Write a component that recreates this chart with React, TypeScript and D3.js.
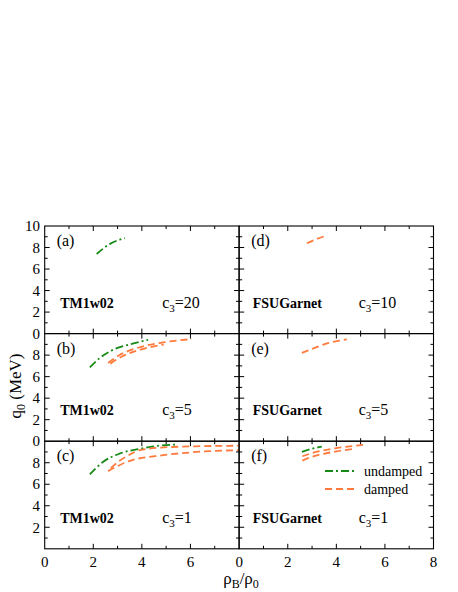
import React from "react";
import * as d3 from "d3";

type Pt = [number, number];

// x: rho_B/rho_0, y: q0 (MeV)
const panelA_undamped: Pt[] = [[2.14, 7.4], [2.69, 8.34], [3.3, 8.87]];
const panelD_damped: Pt[] = [[2.79, 8.4], [3.2, 8.8], [3.63, 9.14]];
const panelB_undamped: Pt[] = [[1.86, 6.86], [2.28, 7.75], [2.82, 8.5], [3.51, 9.0], [4.26, 9.42]];
const panelB_damped1: Pt[] = [[2.61, 7.26], [3.1, 8.03], [3.79, 8.65], [4.88, 9.18], [6.05, 9.49]];
const panelB_damped2: Pt[] = [[2.7, 7.2], [3.2, 7.9], [3.9, 8.48], [4.9, 8.98]];
const panelC_undamped: Pt[] = [[1.86, 6.92], [2.41, 8.09], [3.1, 8.86], [3.99, 9.32], [4.6, 9.55], [5.43, 9.69]];
const panelC_damped1: Pt[] = [[2.72, 7.5], [3.03, 8.09], [3.5, 8.75], [3.92, 9.17], [4.88, 9.42], [6.52, 9.54], [8.0, 9.58]];
const panelC_damped2: Pt[] = [[2.61, 7.22], [3.51, 8.18], [4.88, 8.7], [6.25, 9.0], [8.0, 9.17]];
const panelE_damped: Pt[] = [[2.58, 8.21], [3.06, 8.62], [3.61, 9.09], [4.02, 9.3], [4.43, 9.46]];
const panelF_undamped: Pt[] = [[2.58, 9.0], [3.0, 9.3], [3.4, 9.5]];
const panelF_damped1: Pt[] = [[2.6, 8.6], [3.0, 8.9], [4.0, 9.35], [5.1, 9.65]];
const panelF_damped2: Pt[] = [[2.6, 8.2], [3.0, 8.55], [4.0, 9.05], [4.8, 9.3]];

const panelLetters = ["(a)", "(b)", "(c)", "(d)", "(e)", "(f)"];
const modelNames = ["TM1w02", "FSUGarnet"];
const c3Values = [["20", "5", "1"], ["10", "5", "1"]];
const xTickLabelsLeft = [0, 2, 4, 6];
const xTickLabelsRight = [0, 2, 4, 6, 8];
const yTickLabelsByRow = [[0, 2, 4, 6, 8, 10], [0, 2, 4, 6, 8], [2, 4, 6, 8]];
const legendLabels = ["undamped", "damped"];

const GREEN = "#168a16";
const ORANGE = "#ff7a3c";
const GREEN_DASH = "8,3,2,3";
const ORANGE_DASH = "7,4";

const colLefts = [44.7, 239.2];
const colW = 194.3;
const rowTops = [226, 333.6, 441.2];
const rowH = 107.6;

const FONT = "Liberation Serif, Times New Roman, Times, serif";
const fs = (size: number, extra: React.CSSProperties = {}): React.CSSProperties => ({ fontFamily: FONT, fontSize: size, ...extra });

interface Series { pts: Pt[]; kind: "u" | "d"; }

const panelSeries: Series[][] = [
  [{ pts: panelA_undamped, kind: "u" }],
  [{ pts: panelB_undamped, kind: "u" }, { pts: panelB_damped1, kind: "d" }, { pts: panelB_damped2, kind: "d" }],
  [{ pts: panelC_undamped, kind: "u" }, { pts: panelC_damped1, kind: "d" }, { pts: panelC_damped2, kind: "d" }],
  [{ pts: panelD_damped, kind: "d" }],
  [{ pts: panelE_damped, kind: "d" }],
  [{ pts: panelF_undamped, kind: "u" }, { pts: panelF_damped1, kind: "d" }, { pts: panelF_damped2, kind: "d" }],
];

function Panel({ col, row }: { col: number; row: number }) {
  const left = colLefts[col];
  const top = rowTops[row];
  const x = d3.scaleLinear().domain([0, 8]).range([left, left + colW]);
  const y = d3.scaleLinear().domain([0, 10]).range([top + rowH, top]);
  const idx = col * 3 + row;
  const line = d3.line<Pt>().x((d) => x(d[0])).y((d) => y(d[1])).curve(d3.curveMonotoneX);
  const xt = d3.range(0, 9, 1);
  const yt = d3.range(0, 11, 1);
  const maj = 5, mn = 3;
  return (
    <g>
      {panelSeries[idx].map((s, i) => (
        <path key={i} d={line(s.pts) || ""} fill="none"
          stroke={s.kind === "u" ? GREEN : ORANGE}
          strokeWidth={1.8}
          strokeDasharray={s.kind === "u" ? GREEN_DASH : ORANGE_DASH} />
      ))}
      <rect x={left} y={top} width={colW} height={rowH} fill="none" stroke="#000" strokeWidth={1.1} />
      {xt.map((t) => {
        const L = t % 2 === 0 ? maj : mn;
        if (t === 0 || t === 8) return null;
        return (
          <g key={"x" + t}>
            <line x1={x(t)} x2={x(t)} y1={top + rowH} y2={top + rowH - L} stroke="#000" strokeWidth={1} />
            <line x1={x(t)} x2={x(t)} y1={top} y2={top + L} stroke="#000" strokeWidth={1} />
          </g>
        );
      })}
      {yt.map((t) => {
        const L = t % 2 === 0 ? maj : mn;
        if (t === 0 || t === 10) return null;
        return (
          <g key={"y" + t}>
            <line x1={left} x2={left + L} y1={y(t)} y2={y(t)} stroke="#000" strokeWidth={1} />
            <line x1={left + colW} x2={left + colW - L} y1={y(t)} y2={y(t)} stroke="#000" strokeWidth={1} />
          </g>
        );
      })}
      {col === 0 && yTickLabelsByRow[row].map((t) => (
        <text key={"yl" + t} x={40} y={y(t)} dy="0.35em" textAnchor="end" style={fs(15)}>{t}</text>
      ))}
      {row === 2 && (col === 0 ? xTickLabelsLeft : xTickLabelsRight).map((t) => (
        <text key={"xl" + t} x={x(t)} y={567} textAnchor="middle" style={fs(15)}>{t}</text>
      ))}
      <text x={left + 12} y={top + 20} style={fs(16)}>{panelLetters[idx]}</text>
      <text x={left + (col === 0 ? 15.5 : 13.5)} y={top + rowH - 26} style={fs(14, { fontWeight: "bold" })}>{modelNames[col]}</text>
      <text x={left + (col === 0 ? 117.5 : 119.5)} y={top + rowH - 26} style={fs(16)}>
        c<tspan style={{ fontSize: 11 }} dy={4}>3</tspan><tspan dy={-4}>={c3Values[col][row]}</tspan>
      </text>
    </g>
  );
}

export default function App() {
  const lx1 = 325, lx2 = 357;
  const ly = [471, 489];
  return (
    <svg width={458} height={592} style={{ display: "block", position: "absolute", left: 0, top: 0 }}>
      <rect width={458} height={592} fill="#fff" />
      {[0, 1].map((c) => [0, 1, 2].map((r) => <Panel key={c + "-" + r} col={c} row={r} />))}
      <line x1={lx1} x2={lx2} y1={ly[0]} y2={ly[0]} stroke={GREEN} strokeWidth={1.8} strokeDasharray={GREEN_DASH} />
      <line x1={lx1} x2={lx2} y1={ly[1]} y2={ly[1]} stroke={ORANGE} strokeWidth={1.8} strokeDasharray={ORANGE_DASH} />
      {legendLabels.map((l, i) => (
        <text key={l} x={364} y={ly[i] + 5} style={fs(14)}>{l}</text>
      ))}
      <text transform="translate(21,386) rotate(-90)" textAnchor="middle" style={fs(17)}>
        q<tspan style={{ fontSize: 12 }} dy={4}>0</tspan><tspan dy={-4}> (MeV)</tspan>
      </text>
      <text x={241} y={584} textAnchor="middle" style={fs(17)}>
        ρ<tspan style={{ fontSize: 12 }} dy={4}>B</tspan><tspan dy={-4}>/ρ</tspan><tspan style={{ fontSize: 12 }} dy={4}>0</tspan>
      </text>
    </svg>
  );
}
